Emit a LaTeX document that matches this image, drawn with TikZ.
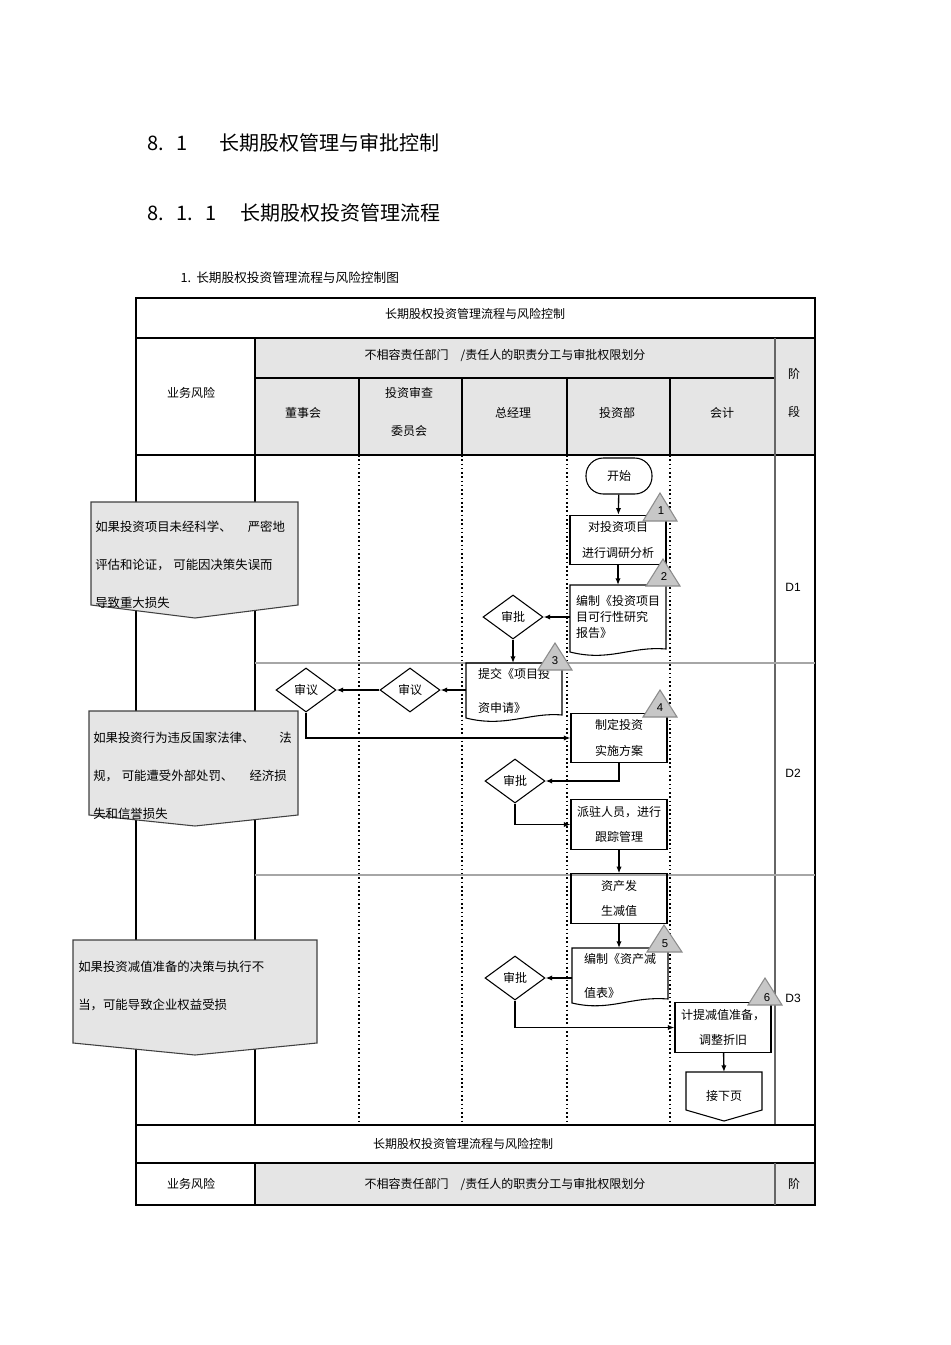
\documentclass[tikz,border=0pt]{standalone}
\usepackage{fontspec}
\setmainfont{Liberation Sans}
\newfontfamily\cjk{Noto Sans CJK SC}
\usetikzlibrary{shapes.geometric,arrows.meta}
\begin{document}
\begin{tikzpicture}[x=0.75pt,y=-0.75pt,
  every node/.style={font=\cjk\fontsize{9}{11}\selectfont},
  box/.style={draw,line width=0.8pt,minimum width=72pt,minimum height=37pt,align=center,inner sep=1pt,font=\cjk\fontsize{9}{19}\selectfont},
  docn/.style={draw=none,minimum width=72pt,minimum height=48pt,align=left,inner sep=1pt},
  dec/.style={draw,line width=0.8pt,diamond,minimum width=45pt,minimum height=33pt,inner sep=0pt},
  arr/.style={-{Latex[length=5pt,width=4pt]},line width=1pt},
  tri/.style={fill=black!22,draw=black!45,line width=0.8pt},
  hdr/.style={fill=black!10},
  dots/.style={line width=1.2pt,dotted},
  risk/.style={fill=black!10,draw=black!75,line width=0.8pt},
  rtext/.style={align=left,anchor=north west,inner sep=0pt,font=\cjk\fontsize{9.3}{28.5}\selectfont}]
\useasboundingbox (0,0) rectangle (950,1345);
% titles
\node[anchor=west,font=\cjk\fontsize{15}{18}\selectfont] (t1) at (143,143) {8.\hspace{0.6em}1\hspace{1.6em}长期股权管理与审批控制};
\node[anchor=west,font=\cjk\fontsize{15}{18}\selectfont] (t2) at (143,213) {8.\hspace{0.6em}1.\hspace{0.6em}1\hspace{1.2em}长期股权投资管理流程};
\node[anchor=west,font=\cjk\fontsize{9.5}{11}\selectfont] (t3) at (176,278) {1.\hspace{0.4em}长期股权投资管理流程与风险控制图};
% header fills
\fill[hdr] (255,338) rectangle (815,455);
\draw[line width=0.8pt] (136,298) rectangle (815,1125);
\draw[line width=0.8pt] (136,338) -- (815,338);
\draw[line width=0.8pt] (136,455) -- (815,455);
\draw[line width=0.8pt] (255,378) -- (775,378);
\draw[line width=0.8pt] (255,338) -- (255,1125);
\draw[line width=1pt] (359,378) -- (359,455) (462,378) -- (462,455) (567,378) -- (567,455) (670,378) -- (670,455);
\draw[line width=0.8pt,black!60] (775,338) -- (775,1125);
\node (h0) at (475,314) {长期股权投资管理流程与风险控制};
\node (h1) at (191,393) {业务风险};
\node (h2) at (505,355) {不相容责任部门\hspace{1em}/责任人的职责分工与审批权限划分};
\node (h3) at (303,413) {董事会};
\node[align=center,font=\cjk\fontsize{9}{28}\selectfont] (h4) at (409,412) {投资审查\\委员会};
\node (h5) at (513,413) {总经理};
\node (h6) at (617,413) {投资部};
\node (h7) at (722,413) {会计};
\node[align=center,font=\cjk\fontsize{9}{28}\selectfont] (h8) at (794,393) {阶\\段};
% lanes
\draw[dots] (359,455) -- (359,1125) (462,455) -- (462,1125) (567,455) -- (567,1125) (670,455) -- (670,1125);
\draw[black!35,line width=0.8pt] (255,663) -- (815,663) (255,875) -- (815,875);
\node (d1) at (793,587) {\fontsize{9}{11}\selectfont\rmfamily D1};
\node (d2) at (793,773) {\fontsize{9}{11}\selectfont\rmfamily D2};
\node (d3) at (793,998) {\fontsize{9}{11}\selectfont\rmfamily D3};
% risks
\draw[risk] (91,502) -- (298,502) -- (298,605) -- (195,618) -- (91,605) -- cycle;
\node[rtext] (r1) at (95,521) {如果投资项目未经科学、\hspace{1.3em}严密地\\评估和论证，\hspace{0.3em}可能因决策失误而\\导致重大损失};
\draw[risk] (89,711) -- (298,711) -- (298,815) -- (195,826) -- (89,815) -- cycle;
\node[rtext] (r2) at (93,732) {如果投资行为违反国家法律、\hspace{2em}法\\规，\hspace{0.3em}可能遭受外部处罚、\hspace{1.3em}经济损\\失和信誉损失};
\draw[risk] (73,940) -- (317,940) -- (317,1043) -- (195,1055) -- (73,1043) -- cycle;
\node[rtext] (r3) at (78,961) {如果投资减值准备的决策与执行不\\当，可能导致企业权益受损};
% flow
\node[draw,line width=0.8pt,rounded corners=13pt,minimum width=49.5pt,minimum height=27pt] (st) at (619,476) {开始};
\node[box] (b1) at (618,540) {对投资项目\\进行调研分析};
\draw[line width=0.8pt] (570,585) -- (666,585) -- (666,649) .. controls (630,646) and (610,662) .. (570,652) -- cycle;
\node[docn,font=\cjk\fontsize{9}{12}\selectfont] (doc2) at (618,617) {编制《投资项目\\目可行性研究\\报告》};
\node[dec] (sp1) at (513,617) {审批};
\draw[line width=0.8pt] (466,663) -- (562,663) -- (562,715) .. controls (530,712) and (505,728) .. (466,718) -- cycle;
\node[docn,font=\cjk\fontsize{9}{25}\selectfont] (doc3) at (514,691) {提交《项目投\\资申请》};
\node[dec] (sy2) at (410,690) {审议};
\node[dec] (sy1) at (306,690) {审议};
\node[box] (b4) at (619,738) {制定投资\\实施方案};
\node[dec] (sp2) at (515,781) {审批};
\node[box] (b5) at (619,824.5) {派驻人员，进行\\跟踪管理};
\node[box] (b6) at (619,898.5) {资产发\\生减值};
\draw[line width=0.8pt] (572,948) -- (668,948) -- (668,999) .. controls (630,996) and (610,1012) .. (572,1003) -- cycle;
\node[docn,font=\cjk\fontsize{9}{25}\selectfont] (doc5) at (620,976) {编制《资产减\\值表》};
\node[dec] (sp3) at (515,978) {审批};
\node[box] (b7) at (723,1027.5) {计提减值准备，\\调整折旧};
\draw[line width=0.8pt] (686,1072) -- (762,1072) -- (762,1110) -- (724,1121) -- (686,1110) -- cycle;
\node (nx) at (724,1096) {接下页};
% triangles
\draw[tri] (660,493) -- (677,521) -- (643,521) -- cycle; \node at (661,511) {\rmfamily\fontsize{8.5}{10}\selectfont 1};
\draw[tri] (663,559) -- (680,586) -- (646,586) -- cycle; \node at (664,577) {\rmfamily\fontsize{8.5}{10}\selectfont 2};
\draw[tri] (555,643) -- (572,670) -- (538,670) -- cycle; \node at (555,661) {\rmfamily\fontsize{8.5}{10}\selectfont 3};
\draw[tri] (660,690) -- (677,717) -- (643,717) -- cycle; \node at (660,708) {\rmfamily\fontsize{8.5}{10}\selectfont 4};
\draw[tri] (664,925) -- (682,952) -- (647,952) -- cycle; \node at (665,944) {\rmfamily\fontsize{8.5}{10}\selectfont 5};
\draw[tri] (765,978) -- (782,1005) -- (748,1005) -- cycle; \node at (767,998) {\rmfamily\fontsize{8.5}{10}\selectfont 6};
% connectors
\draw[arr] (st) -- (b1);
\draw[arr] (b1) -- (618,585);
\draw[arr] (570,617) -- (sp1);
\draw[arr] (sp1) -- (513,663);
\draw[arr] (466,690) -- (sy2);
\draw[arr] (sy2) -- (sy1);
\draw[arr] (sy1.south) |- (b4.west);
\draw[arr] (b4.south) |- (sp2.east);
\draw[arr] (sp2.south) |- (b5.west);
\draw[arr] (b5) -- (b6);
\draw[arr] (b6) -- (619,948);
\draw[arr] (572,978) -- (sp3);
\draw[arr] (sp3.south) |- (b7.west);
\draw[arr] (b7) -- (724,1072);
% bottom header
\fill[hdr] (255,1163) rectangle (815,1205);
\draw[line width=0.8pt] (136,1125) rectangle (815,1205);
\draw[line width=0.8pt] (136,1163) -- (815,1163) (255,1163) -- (255,1205);
\draw[line width=0.8pt,black!60] (775,1163) -- (775,1205);
\node (f0) at (463,1144) {长期股权投资管理流程与风险控制};
\node (f1) at (191,1184) {业务风险};
\node (f2) at (505,1184) {不相容责任部门\hspace{1em}/责任人的职责分工与审批权限划分};
\node (f3) at (794,1184) {阶};
\end{tikzpicture}
\end{document}
